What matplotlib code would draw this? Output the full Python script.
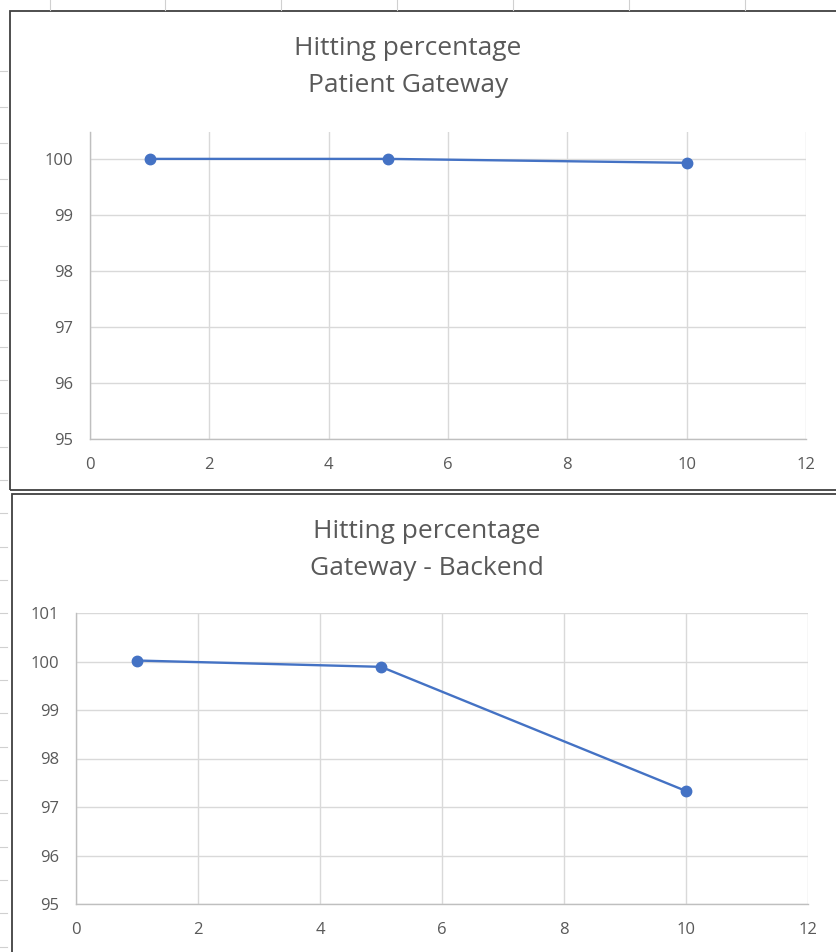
import matplotlib
matplotlib.use("Agg")
import matplotlib.pyplot as plt
from matplotlib.patches import Rectangle
from matplotlib.lines import Line2D

# data
x_vals = [1, 5, 10]
patient_gateway = [100.0, 100.0, 99.93]
gateway_backend = [100.02, 99.89, 97.33]
titles = ["Hitting percentage\nPatient Gateway", "Hitting percentage\nGateway - Backend"]
x_ticks = [0, 2, 4, 6, 8, 10, 12]

W, H = 836, 952
LINE = "#4472C4"
TXT = "#595959"
GRID = "#d9d9d9"
AXIS = "#bfbfbf"

plt.rcParams['font.family'] = ['Open Sans', 'DejaVu Sans']

fig = plt.figure(figsize=(W / 100, H / 100), dpi=100)
fig.patch.set_facecolor("white")


def px_rect(x0, y0, x1, y1):
    # pixel box (top-left origin) -> figure fraction
    return [x0 / W, 1 - y1 / H, (x1 - x0) / W, (y1 - y0) / H]


# spreadsheet background marks (column / row separators)
for cx in [50, 165, 281, 397, 513, 629, 745]:
    fig.add_artist(Line2D([cx / W, cx / W], [1, 1 - 10 / H], color="#d0d0d0", lw=0.8))
rows_y = [71, 107, 143, 179, 213, 246, 280, 313, 347, 380, 413, 447, 480,
          513, 547, 580, 613, 647, 680, 713, 747, 780, 813, 847, 880, 913, 947]
for ry in rows_y:
    fig.add_artist(Line2D([0, 7 / W], [1 - ry / H, 1 - ry / H], color="#d0d0d0", lw=0.8))

# chart frames
fig.add_artist(Rectangle((10 / W, 1 - 490 / H), 830 / W, 479 / H, transform=fig.transFigure,
                         fill=False, edgecolor="#404040", lw=1.3))
fig.add_artist(Rectangle((12 / W, -0.02), 830 / W, (H - 494) / H + 0.02, transform=fig.transFigure,
                         fill=False, edgecolor="#404040", lw=1.3))


def draw_chart(ax, y, ylim, yticks, title, title_x, title_y):
    ax.plot(x_vals, y, color=LINE, lw=1.7, marker="o", ms=7.5, zorder=3, clip_on=False)
    ax.set_xlim(0, 12)
    ax.set_ylim(*ylim)
    ax.set_xticks(x_ticks)
    ax.set_yticks(yticks)
    ax.grid(True, color=GRID, lw=1)
    ax.set_axisbelow(True)
    for s in ["top", "right"]:
        ax.spines[s].set_visible(False)
    for s in ["left", "bottom"]:
        ax.spines[s].set_color(AXIS)
        ax.spines[s].set_linewidth(1)
    ax.tick_params(length=0, labelsize=12, colors=TXT, pad=12)
    ax.tick_params(axis="x", pad=13)
    fig.text(title_x / W, 1 - title_y / H, title, ha="center", va="center",
             fontsize=19, color=TXT, linespacing=1.68)


ax1 = fig.add_axes(px_rect(90, 132, 806, 439))
draw_chart(ax1, patient_gateway, (95, 100.48), [95, 96, 97, 98, 99, 100], titles[0], 408, 67)

ax2 = fig.add_axes(px_rect(76, 613, 808, 904))
draw_chart(ax2, gateway_backend, (95, 101), [95, 96, 97, 98, 99, 100, 101], titles[1], 427, 550)

fig.savefig("out.png", dpi=100, facecolor="white")
